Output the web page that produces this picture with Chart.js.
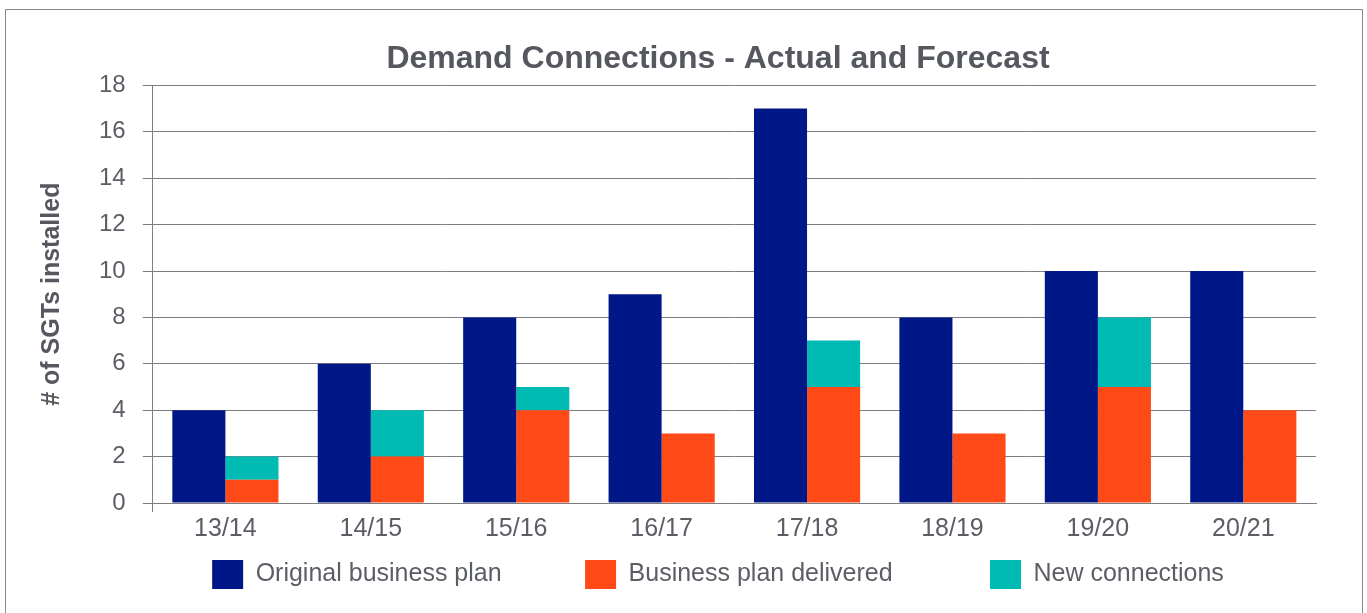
<!DOCTYPE html>
<html>
<head>
<meta charset="utf-8">
<script src="https://cdn.jsdelivr.net/npm/chart.js@4"></script>
<style>
  html, body { margin: 0; background: #fff; overflow: hidden; }
  #frame {
    position: absolute; left: 5px; top: 9px;
    width: 1358px; height: 620px;
    border: 1px solid #8a8a8a; box-sizing: border-box;
  }
  #myChart { position: absolute; left: 0; top: 0; display: block; }
</style>
</head>
<body>
<div id="frame"></div>
<canvas id="myChart" width="1408" height="613"></canvas>
<script>
const categories = ["13/14", "14/15", "15/16", "16/17", "17/18", "18/19", "19/20", "20/21"];
const original_plan = [4, 6, 8, 9, 17, 8, 10, 10];
const plan_delivered = [1, 2, 4, 3, 5, 3, 5, 4];
const new_connections = [1, 2, 1, 0, 2, 0, 3, 0];
const y_ticks = [0, 2, 4, 6, 8, 10, 12, 14, 16, 18];

const textColor = "#5b5e64";
const lineColor = "#7d7e82";
const fontFamily = "'Liberation Sans', Arial, sans-serif";

// extra gap after legend items (Chart.js uses the same padding for rows and items)
const legendGaps = [10, 12, 0];

const ctx = document.getElementById("myChart").getContext("2d");
const myChart = new Chart(ctx, {
  type: "bar",
  data: {
    labels: categories,
    datasets: [
      { label: "Original business plan", data: original_plan, backgroundColor: "#001887", stack: "plan" },
      { label: "Business plan delivered", data: plan_delivered, backgroundColor: "#ff4a17", stack: "actual" },
      { label: "New connections", data: new_connections, backgroundColor: "#00bbb4", stack: "actual" }
    ]
  },
  options: {
    responsive: false,
    animation: false,
    categoryPercentage: 0.73,
    barPercentage: 1,
    layout: { padding: { left: 32, right: 4, top: 20, bottom: 14 } },
    plugins: {
      title: {
        display: true,
        text: "Demand Connections - Actual and Forecast",
        color: "#55585e",
        font: { family: fontFamily, size: 32, weight: "bold" },
        padding: { top: 20, bottom: 7 }
      },
      legend: {
        position: "bottom",
        labels: {
          color: textColor,
          font: { family: fontFamily, size: 25 },
          boxWidth: 31,
          boxHeight: 29,
          padding: 14,
          generateLabels: (chart) => {
            const items = Chart.defaults.plugins.legend.labels.generateLabels(chart);
            items.forEach((item, i) => { item.text = item.text + " ".repeat(legendGaps[i]); });
            return items;
          }
        }
      },
      tooltip: { enabled: false }
    },
    scales: {
      x: {
        stacked: true,
        grid: {
          drawOnChartArea: false,
          tickLength: 9,
          color: (c) => (c.index === 0 ? lineColor : "rgba(0,0,0,0)")
        },
        border: { display: true, color: lineColor },
        ticks: { color: textColor, font: { family: fontFamily, size: 25 }, padding: 2 }
      },
      y: {
        stacked: true,
        min: y_ticks[0],
        max: y_ticks[y_ticks.length - 1],
        afterBuildTicks: (axis) => { axis.ticks = y_ticks.map((v) => ({ value: v })); },
        ticks: { color: textColor, font: { family: fontFamily, size: 24 }, padding: 17 },
        grid: { color: lineColor, tickLength: 10 },
        border: { display: true, color: lineColor },
        title: {
          display: true,
          text: "# of SGTs installed",
          color: "#55585e",
          font: { family: fontFamily, size: 25, weight: "bold" },
          padding: { top: 5, bottom: 15 }
        }
      },
      // empty right-hand space so the title and legend sit where the original has them
      spacer: {
        type: "linear",
        position: "right",
        display: true,
        grid: { display: false },
        border: { display: false },
        ticks: { display: false },
        afterFit: (axis) => { axis.width = 88; }
      }
    }
  }
});
</script>
</body>
</html>
